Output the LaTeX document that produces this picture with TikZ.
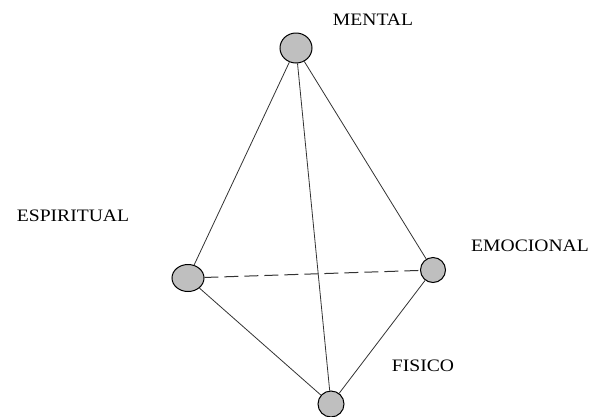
\documentclass[tikz,border=0pt]{standalone}
\usepackage{fontspec}
\setmainfont{Liberation Serif}
\usetikzlibrary{shapes.geometric}
\begin{document}
\begin{tikzpicture}[x=1pt,y=-1pt,
  vert/.style={ellipse,draw=black,line width=1pt,fill=black!25,inner sep=0pt},
  lab/.style={font=\fontsize{17.5}{19}\selectfont,inner sep=0pt,xscale=1.12},
  edge/.style={draw=black!80,line width=0.8pt}]
\useasboundingbox (0,0) rectangle (592,416);
\node[vert,minimum width=32,minimum height=30] (m) at (296,48) {};
\node[vert,minimum width=32,minimum height=27] (s) at (188,278) {};
\node[vert,minimum width=25,minimum height=25] (e) at (433,270) {};
\node[vert,minimum width=26,minimum height=26] (f) at (331,404) {};
\node[lab] (lm) at (373,20) {MENTAL};
\node[lab] (ls) at (73,216) {ESPIRITUAL};
\node[lab] (le) at (530,246) {EMOCIONAL};
\node[lab] (lf) at (423,366) {FISICO};
\draw[edge] (m) -- (s);
\draw[edge] (m) -- (e);
\draw[edge] (m) -- (f);
\draw[edge] (s) -- (f);
\draw[edge] (e) -- (f);
\draw[edge,line width=1pt,dash pattern=on 14pt off 6pt] (s) -- (e);
\end{tikzpicture}
\end{document}
